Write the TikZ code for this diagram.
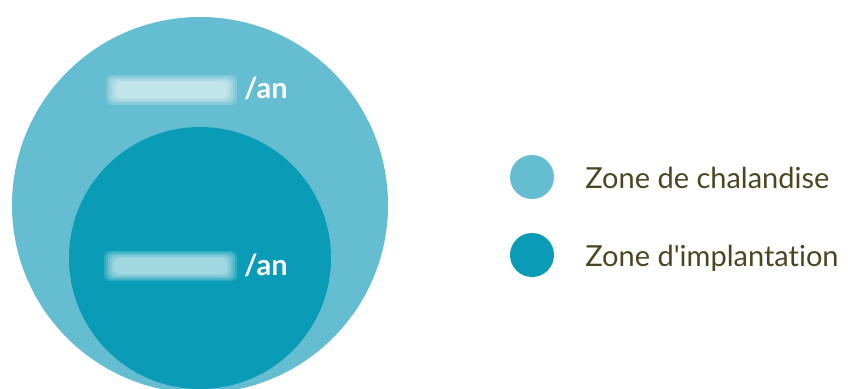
\documentclass[tikz,border=0pt]{standalone}
\usepackage{fontspec}
\setmainfont[Ligatures=NoCommon]{Lato}
\usetikzlibrary{positioning}
\definecolor{chalcol}{HTML}{64BDD0}
\definecolor{implcol}{HTML}{0A9CB7}
\definecolor{legtext}{HTML}{4B4622}

\begin{document}
\begin{tikzpicture}[x=1pt,y=-1pt,
    zone/.style={circle,inner sep=0pt},
    blurbox/.style={fill=white,rounded corners=6pt,opacity=0.15},
    peran/.style={text=white,font=\fontsize{29}{34}\selectfont\bfseries,inner sep=0pt,anchor=base west},
    legdot/.style={circle,inner sep=0pt,minimum size=44pt},
    legtxt/.style={text=legtext,font=\fontsize{29}{34}\selectfont,inner sep=0pt}]
    \useasboundingbox (0,0) rectangle (848,388);
    \clip (0,0) rectangle (848,388);

    % zones
    \node[zone,fill=chalcol,minimum size=376pt] (chal) at (200,205) {};
    \node[zone,fill=implcol,minimum size=262pt] (impl) at (200,258) {};

    % montants (flous)
    \foreach \i in {0,...,5} {
        \fill[blurbox] (106+2*\i,75+1.4*\i) rectangle (237-2*\i,105-1.4*\i);
        \fill[blurbox] (104+2*\i,251+1.4*\i) rectangle (237-2*\i,281-1.4*\i);
    }
    \node[peran] (anchal) at (244,98) {/an};
    \node[peran] (animpl) at (244,275) {/an};

    % legende
    \node[legdot,fill=chalcol] (legchal) at (532,177) {};
    \node[legdot,fill=implcol] (legimpl) at (532,255) {};
    \node[legtxt,right=31pt of legchal,anchor=base west,yshift=-11pt] (txtchal) {Zone de chalandise};
    \node[legtxt,right=31pt of legimpl,anchor=base west,yshift=-11pt] (txtimpl) {Zone d\textquotesingle implantation};
\end{tikzpicture}
\end{document}
